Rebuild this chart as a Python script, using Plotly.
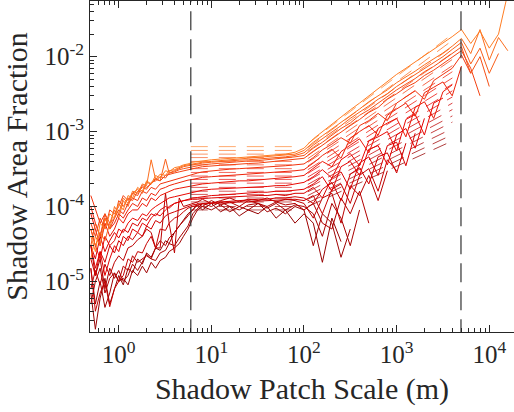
import plotly.graph_objects as go

# ---------------- data ----------------
x_scale = [0.5, 0.56, 0.63, 0.71, 0.8, 0.9, 1.0, 1.12, 1.26, 1.41,
           1.6, 1.8, 2.0, 2.24, 2.5, 2.8, 3.2, 3.5, 4.0, 4.5,
           5.0, 5.6, 6.3, 7.1, 8, 10, 12.6, 15.8, 20, 25,
           32, 40, 50, 63, 80, 100, 126, 158, 200, 251,
           316, 398, 501, 631, 794, 1000, 1259, 1585, 1995, 2512,
           3162, 3981, 5012, 6310, 7943, 10000, 12589, 15849]

area_frac_00 = [7e-6, 2.3e-6, 6e-6, 1.1e-5, 5e-6, 8e-6, 1.2e-5, 9e-6, 1.5e-5, 1.3e-5,
                2e-5, 1.7e-5, 2.4e-5, 2.1e-5, 2.8e-5, 2.6e-5, 3.5e-5, 3.2e-5, 4.5e-5, 5.5e-5,
                6.5e-5, 8e-5, 9e-5, 1.05e-4, 9e-5, 1.1e-4, 8.5e-5, 1.0e-4, 7.5e-5, 9e-5,
                8e-5, 1.0e-4, 7e-5, 9e-5, 6e-5, 8e-5, 6e-5, 1.8e-5, 7e-5, 3.4e-5]
area_frac_01 = [1.5e-5, 5e-6, 1e-5, 4.5e-6, 7e-6, 1.3e-5, 1.0e-5, 1.1e-5, 9e-6, 1.4e-5,
                1.2e-5, 1.6e-5, 1.3e-5, 1.8e-5, 1.5e-5, 1.9e-5, 2.1e-5, 2.5e-5, 2.8e-5, 3.2e-5,
                4e-5, 5e-5, 7e-5, 9e-5, 1.0e-4, 9e-5, 1.05e-4, 8.5e-5, 1.0e-4, 9e-5,
                1.1e-4, 8.5e-5, 9.5e-5, 8e-5, 1.0e-4, 9e-5, 3e-5, 8e-5, 6e-5, 2.1e-5,
                5e-5]
area_frac_02 = [3e-5, 1.2e-5, 2e-5, 8e-6, 1.5e-5, 1.1e-5, 1.4e-5, 1.0e-5, 1.2e-5, 1.7e-5,
                1.4e-5, 1.8e-5, 2.3e-5, 2.0e-5, 1.9e-5, 2.4e-5, 2.6e-5, 3.2e-5, 3.0e-5, 3.8e-5,
                4.5e-5, 5.5e-5, 8e-5, 9.5e-5, 1.1e-4, 1.0e-4, 1.15e-4, 1.0e-4, 9e-5, 1.05e-4,
                1.1e-4, 9.5e-5, 1.1e-4, 9e-5, 1.05e-4, 1.0e-4, 8e-5, 4e-5, 1.1e-4, 7e-5,
                3e-5, 9e-5]
area_frac_03 = [5e-6, 1e-5, 1.5e-5, 7e-6, 1.1e-5, 1.3e-5, 1.0e-5, 1.6e-5, 1.4e-5, 2.2e-5,
                1.8e-5, 2.0e-5, 2.2e-5, 2.0e-5, 2.8e-5, 3.5e-5, 3.0e-5, 3.8e-5, 4.5e-5, 5.5e-5,
                6.5e-5, 7.5e-5, 9e-5, 1.1e-4, 1.0e-4, 1.2e-4, 1.05e-4, 1.15e-4, 1.0e-4, 1.2e-4,
                1.1e-4, 1.0e-4, 1.15e-4, 1.05e-4, 1.1e-4, 9e-5, 1.1e-4, 6e-5, 5e-5, 1.3e-4,
                8e-5, 1.6e-4, 6e-5]
area_frac_04 = [8e-6, 1.4e-5, 9e-6, 1.7e-5, 1.2e-5, 1.8e-5, 2.2e-5, 1.9e-5, 2.8e-5, 3e-5,
                3.6e-5, 4e-5, 5e-5, 4.5e-5, 2.8e-5, 2.8e-5, 1.5e-4, 6e-5, 2.4e-5, 1.3e-4,
                1.0e-4, 1.05e-4, 1.1e-4, 1.15e-4, 1.25e-4, 1.1e-4, 1.2e-4, 1.3e-4, 1.15e-4, 1.25e-4,
                1.2e-4, 1.3e-4, 1.15e-4, 1.25e-4, 1.2e-4, 1.1e-4, 7e-5, 1.3e-4, 1.5e-4, 6e-5,
                1.9e-4, 1.4e-4, 2.6e-4, 1.2e-4, 3e-4]
area_frac_05 = [1.5e-5, 4e-6, 7e-6, 1e-5, 4.6e-6, 8e-6, 1e-5, 1.2e-5, 2e-5, 1.8e-5,
                2.5e-5, 2.4e-5, 3.2e-5, 4e-5, 2.8e-5, 5e-5, 4.8e-5, 6e-5, 7e-5, 7.5e-5,
                8.5e-5, 9.5e-5, 1.0e-4, 1.05e-4, 1.08e-4, 1.1e-4, 1.1e-4, 1.12e-4, 1.15e-4, 1.15e-4,
                1.18e-4, 1.2e-4, 1.2e-4, 1.22e-4, 1.25e-4, 1.2e-4, 1.4e-4, 8e-5, 1.7e-4, 2.0e-4,
                1.1e-4, 2.6e-4, 3.2e-4, 1.6e-4, 4.2e-4, 3.0e-4]
area_frac_06 = [2e-5, 1.2e-5, 2.5e-5, 1.8e-5, 3e-5, 2.4e-5, 3.5e-5, 3e-5, 4e-5, 3.6e-5,
                4.5e-5, 4e-5, 5.5e-5, 5e-5, 6.5e-5, 6e-5, 7.5e-5, 8e-5, 8.5e-5, 9e-5,
                9.5e-5, 1.0e-4, 1.05e-4, 1.08e-4, 1.1e-4, 1.12e-4, 1.15e-4, 1.18e-4, 1.2e-4, 1.22e-4,
                1.25e-4, 1.25e-4, 1.3e-4, 1.3e-4, 1.35e-4, 1.3e-4, 1.1e-4, 1.7e-4, 2.1e-4, 1.2e-4,
                2.7e-4, 3.3e-4, 2.0e-4, 4.6e-4, 5.2e-4, 2.8e-4, 7e-4]
area_frac_07 = [3e-5, 2e-5, 4e-5, 2.5e-5, 3.5e-5, 4.5e-5, 3.8e-5, 5e-5, 4.5e-5, 6e-5,
                5.5e-5, 7e-5, 6.5e-5, 8e-5, 7.5e-5, 9e-5, 1e-4, 9.5e-5, 1.1e-4, 1.15e-4,
                1.2e-4, 1.22e-4, 1.25e-4, 1.25e-4, 1.28e-4, 1.3e-4, 1.32e-4, 1.35e-4, 1.35e-4, 1.38e-4,
                1.4e-4, 1.4e-4, 1.45e-4, 1.4e-4, 1.5e-4, 1.5e-4, 1.8e-4, 1.3e-4, 2.4e-4, 2.9e-4,
                1.7e-4, 3.8e-4, 4.6e-4, 2.6e-4, 6.5e-4, 7.2e-4, 3.5e-4, 9.5e-4]
area_frac_08 = [3e-5, 1.5e-5, 2.5e-5, 1.2e-5, 2e-5, 3e-5, 2.5e-5, 4e-5, 3.5e-5, 5e-5,
                4.5e-5, 6e-5, 5.5e-5, 7e-5, 8e-5, 7.5e-5, 9e-5, 1.0e-4, 1.1e-4, 1.15e-4,
                1.2e-4, 1.25e-4, 1.3e-4, 1.32e-4, 1.35e-4, 1.4e-4, 1.42e-4, 1.45e-4, 1.5e-4, 1.5e-4,
                1.55e-4, 1.55e-4, 1.6e-4, 1.6e-4, 1.65e-4, 1.7e-4, 2.0e-4, 2.5e-4, 1.6e-4, 3.4e-4,
                4.0e-4, 2.6e-4, 5.8e-4, 6.5e-4, 3.6e-4, 9e-4, 1.1e-3, 6e-4, 1.5e-3]
area_frac_09 = [5e-5, 3e-5, 2e-5, 4e-5, 3e-5, 3.5e-5, 5e-5, 4.5e-5, 6e-5, 7e-5,
                6.5e-5, 8e-5, 7.5e-5, 9e-5, 1e-4, 1.1e-4, 1.2e-4, 1.3e-4, 1.35e-4, 1.4e-4,
                1.45e-4, 1.5e-4, 1.55e-4, 1.6e-4, 1.65e-4, 1.7e-4, 1.72e-4, 1.75e-4, 1.78e-4, 1.8e-4,
                1.82e-4, 1.85e-4, 1.9e-4, 1.9e-4, 2.0e-4, 2.1e-4, 2.5e-4, 3.1e-4, 2.4e-4, 4.2e-4,
                5.1e-4, 3.5e-4, 7.5e-4, 8.5e-4, 1.0e-3, 5.5e-4, 1.45e-3, 1.7e-3, 9e-4, 2.4e-3,
                2.8e-3]
area_frac_10 = [8e-5, 5e-5, 3e-5, 6e-5, 4e-5, 5e-5, 7e-5, 6e-5, 8e-5, 9e-5,
                9e-5, 1.1e-4, 1.0e-4, 1.3e-4, 1.2e-4, 1.4e-4, 1.5e-4, 1.6e-4, 1.7e-4, 1.75e-4,
                1.8e-4, 1.85e-4, 1.9e-4, 1.95e-4, 2.0e-4, 2.05e-4, 2.1e-4, 2.15e-4, 2.2e-4, 2.2e-4,
                2.25e-4, 2.3e-4, 2.35e-4, 2.4e-4, 2.5e-4, 2.6e-4, 3.2e-4, 4.0e-4, 3.4e-4, 5.4e-4,
                6.6e-4, 8.0e-4, 5.2e-4, 1.1e-3, 1.3e-3, 1.5e-3, 8.5e-4, 2.1e-3, 2.5e-3, 1.5e-3,
                3.4e-3, 4.2e-3]
area_frac_11 = [1e-4, 6e-5, 4e-5, 7e-5, 5e-5, 6e-5, 8e-5, 7e-5, 9e-5, 1.1e-4,
                1e-4, 1.3e-4, 1.2e-4, 1.5e-4, 1.4e-4, 1.7e-4, 1.8e-4, 1.9e-4, 2.0e-4, 2.1e-4,
                2.2e-4, 2.25e-4, 2.3e-4, 2.4e-4, 2.45e-4, 2.5e-4, 2.55e-4, 2.6e-4, 2.65e-4, 2.7e-4,
                2.75e-4, 2.8e-4, 2.85e-4, 2.9e-4, 3.0e-4, 3.1e-4, 3.8e-4, 4.8e-4, 5.8e-4, 4.4e-4,
                8.2e-4, 1.0e-3, 1.2e-3, 9e-4, 1.65e-3, 2.0e-3, 2.4e-3, 1.6e-3, 3.3e-3, 3.9e-3,
                4.6e-3, 3.0e-3, 7.5e-3]
area_frac_12 = [1.4e-4, 9e-5, 6e-5, 8e-5, 5e-5, 7e-5, 9e-5, 8e-5, 1.1e-4, 1.3e-4,
                1.2e-4, 1.6e-4, 1.5e-4, 1.8e-4, 1.7e-4, 2.0e-4, 2.1e-4, 2.2e-4, 2.3e-4, 2.4e-4,
                2.5e-4, 2.6e-4, 2.7e-4, 2.8e-4, 2.9e-4, 3.0e-4, 3.1e-4, 3.15e-4, 3.2e-4, 3.25e-4,
                3.3e-4, 3.4e-4, 3.45e-4, 3.5e-4, 3.6e-4, 3.7e-4, 4.5e-4, 5.7e-4, 6.8e-4, 8.3e-4,
                7.0e-4, 1.2e-3, 1.4e-3, 1.75e-3, 1.4e-3, 2.4e-3, 2.9e-3, 3.5e-3, 2.7e-3, 4.8e-3,
                5.8e-3, 7.0e-3, 1.05e-2, 6e-3]
area_frac_13 = [6e-5, 4e-5, 7e-5, 5e-5, 9e-5, 8e-5, 1e-4, 1.4e-4, 1.2e-4, 1.5e-4,
                1.4e-4, 1.9e-4, 1.8e-4, 2.0e-4, 2.3e-4, 2.2e-4, 2.6e-4, 2.7e-4, 2.8e-4, 2.9e-4,
                3.0e-4, 3.1e-4, 3.2e-4, 3.3e-4, 3.4e-4, 3.5e-4, 3.55e-4, 3.6e-4, 3.7e-4, 3.75e-4,
                3.8e-4, 3.9e-4, 4.0e-4, 4.1e-4, 4.2e-4, 4.4e-4, 5.4e-4, 6.6e-4, 8.0e-4, 1.0e-3,
                1.2e-3, 1.45e-3, 1.8e-3, 2.1e-3, 2.7e-3, 3.2e-3, 3.9e-3, 4.5e-3, 5.6e-3, 6.6e-3,
                8.0e-3, 9.8e-3, 1.2e-2, 7e-3, 3e-3]
area_frac_14 = [3e-5, 6e-5, 4e-5, 8e-5, 6e-5, 7e-5, 1.2e-4, 1e-4, 1.3e-4, 1.2e-4,
                1.6e-4, 1.8e-4, 1.7e-4, 2.1e-4, 2.2e-4, 2.5e-4, 2.4e-4, 2.8e-4, 2.9e-4, 3.1e-4,
                3.2e-4, 3.3e-4, 3.4e-4, 3.5e-4, 3.6e-4, 3.7e-4, 3.8e-4, 3.9e-4, 4.0e-4, 4.05e-4,
                4.1e-4, 4.2e-4, 4.3e-4, 4.4e-4, 4.6e-4, 4.8e-4, 6.0e-4, 7.2e-4, 9.0e-4, 1.1e-3,
                1.3e-3, 1.65e-3, 1.95e-3, 2.4e-3, 2.9e-3, 3.6e-3, 4.3e-3, 5.1e-3, 6.3e-3, 7.4e-3,
                9.0e-3, 1.1e-2, 1.35e-2, 6e-3, 1.0e-2, 4e-3]
area_frac_15 = [5e-5, 3e-5, 4.5e-5, 3.5e-5, 6e-5, 9e-5, 7e-5, 1.2e-4, 1e-4, 1.5e-4,
                1.7e-4, 1.5e-4, 2.1e-4, 2e-4, 2.4e-4, 2.2e-4, 4.3e-4, 2.8e-4, 3.0e-4, 3.2e-4,
                3.4e-4, 3.5e-4, 3.6e-4, 3.7e-4, 3.8e-4, 3.9e-4, 4.0e-4, 4.1e-4, 4.15e-4, 4.2e-4,
                4.3e-4, 4.4e-4, 4.5e-4, 4.6e-4, 4.8e-4, 5.2e-4, 6.6e-4, 8.0e-4, 9.8e-4, 1.2e-3,
                1.5e-3, 1.8e-3, 2.2e-3, 2.7e-3, 3.2e-3, 4.0e-3, 4.8e-3, 5.7e-3, 7.0e-3, 8.4e-3,
                1.0e-2, 1.25e-2, 1.55e-2, 8e-3, 1.3e-2, 6e-3, 1.1e-2]
area_frac_16 = [2e-5, 4e-5, 3e-5, 7e-5, 5e-5, 1e-4, 8e-5, 1.3e-4, 1.1e-4, 1.6e-4,
                1.5e-4, 2e-4, 1.9e-4, 4.2e-4, 2.3e-4, 2.7e-4, 2.6e-4, 3.0e-4, 3.1e-4, 3.3e-4,
                3.5e-4, 3.6e-4, 3.7e-4, 3.8e-4, 3.9e-4, 4.0e-4, 4.1e-4, 4.2e-4, 4.3e-4, 4.4e-4,
                4.5e-4, 4.6e-4, 4.7e-4, 4.8e-4, 5.0e-4, 5.6e-4, 7.2e-4, 8.8e-4, 1.08e-3, 1.35e-3,
                1.65e-3, 2.0e-3, 2.5e-3, 3.0e-3, 3.6e-3, 4.5e-3, 5.3e-3, 6.4e-3, 7.8e-3, 9.3e-3,
                1.12e-2, 1.38e-2, 1.75e-2, 1.1e-2, 2.3e-2, 9e-3, 1.8e-2, 1.2e-2]
area_frac_17 = [4e-5, 2.5e-5, 6e-5, 5e-5, 8e-5, 7e-5, 1.1e-4, 9e-5, 1.4e-4, 1.3e-4,
                1.8e-4, 1.6e-4, 2.2e-4, 2e-4, 2.6e-4, 2.4e-4, 3.0e-4, 2.9e-4, 3.3e-4, 3.4e-4,
                3.6e-4, 3.7e-4, 3.9e-4, 4.0e-4, 4.1e-4, 4.2e-4, 4.3e-4, 4.4e-4, 4.5e-4, 4.6e-4,
                4.7e-4, 4.8e-4, 4.9e-4, 5.0e-4, 5.3e-4, 6.0e-4, 8.0e-4, 1.0e-3, 1.25e-3, 1.55e-3,
                1.95e-3, 2.4e-3, 3.0e-3, 3.7e-3, 4.7e-3, 5.8e-3, 7.0e-3, 8.5e-3, 1.03e-2, 1.25e-2,
                1.5e-2, 1.85e-2, 2.3e-2, 1.5e-2, 2.2e-2, 1.3e-2, 2.0e-2, 7e-2]

series = [area_frac_00, area_frac_01, area_frac_02, area_frac_03, area_frac_04, area_frac_05,
          area_frac_06, area_frac_07, area_frac_08, area_frac_09, area_frac_10, area_frac_11,
          area_frac_12, area_frac_13, area_frac_14, area_frac_15, area_frac_16, area_frac_17]

# plateau fits (horizontal dashed) and power-law fits (sloped dashed)
plateau_fit_x = [6.0, 86.0]
plateau_fit_level = [9e-5, 1.0e-4, 1.15e-4, 1.3e-4, 1.45e-4, 1.6e-4, 1.8e-4, 2.05e-4, 2.3e-4,
                     2.55e-4, 2.85e-4, 3.2e-4, 3.6e-4, 4.0e-4, 4.5e-4, 5.0e-4, 5.6e-4, 6.3e-4]
slope_fit_x = [110.0, 4000.0]
slope_fit_start = [1.0e-4, 1.12e-4, 1.25e-4, 1.4e-4, 1.57e-4, 1.76e-4, 1.97e-4, 2.2e-4, 2.47e-4,
                   2.77e-4, 3.1e-4, 3.47e-4, 3.89e-4, 4.35e-4, 4.87e-4, 5.46e-4, 6.1e-4, 6.9e-4]
slope_fit_end = [7.5e-4, 9.1e-4, 1.1e-3, 1.34e-3, 1.62e-3, 1.97e-3, 2.4e-3, 2.9e-3, 3.5e-3,
                 4.3e-3, 5.2e-3, 6.3e-3, 7.6e-3, 9.2e-3, 1.12e-2, 1.36e-2, 1.65e-2, 2.0e-2]

scale_bounds = [6.0, 4950.0]

y_ticks = [1e-5, 1e-4, 1e-3, 1e-2]
y_ticklabels = ["10<sup>-5</sup>", "10<sup>-4</sup>", "10<sup>-3</sup>", "10<sup>-2</sup>"]
x_ticks = [1, 10, 100, 1000, 10000]
x_ticklabels = ["10<sup>0</sup>", "10<sup>1</sup>", "10<sup>2</sup>", "10<sup>3</sup>", "10<sup>4</sup>"]

# ---------------- styling ----------------
def color(i, n, alpha=1.0):
    t = i / (n - 1)
    if t <= 0.5:
        s = t / 0.5
        r, g, b = 150 + (232 - 150) * s, 0, 0
    else:
        s = (t - 0.5) / 0.5
        r, g, b = 232 + (255 - 232) * s, 125 * s, 35 * s
    return f"rgba({int(r)},{int(g)},{int(b)},{alpha})"

n = len(series)
fig = go.Figure()

# dashed fits (drawn below the data)
for i in range(n):
    fig.add_trace(go.Scatter(
        x=plateau_fit_x, y=[plateau_fit_level[i]] * 2, mode="lines",
        line=dict(color=color(i, n, 0.65), width=1, dash="17px,11px"),
        showlegend=False, hoverinfo="skip"))
    fig.add_trace(go.Scatter(
        x=slope_fit_x, y=[slope_fit_start[i], slope_fit_end[i]], mode="lines",
        line=dict(color=color(i, n, 0.75), width=1, dash="14px,9px"),
        showlegend=False, hoverinfo="skip"))

for i, ys in enumerate(series):
    fig.add_trace(go.Scatter(
        x=x_scale[:len(ys)], y=ys, mode="lines",
        line=dict(color=color(i, n), width=1),
        showlegend=False))

for xb in scale_bounds:
    fig.add_trace(go.Scatter(
        x=[xb, xb], y=[1e-8, 1.0], mode="lines",
        line=dict(color="#333333", width=1.2, dash="19px,9px"),
        showlegend=False, hoverinfo="skip"))

axis_col = "#262626"
font_family = "Liberation Serif"

def minor_vals(lo, hi):
    return [m * 10 ** e for e in range(lo, hi) for m in range(2, 10)]

fig.update_layout(
    width=514, height=412,
    margin=dict(l=90, r=0, t=1, b=80),
    paper_bgcolor="white", plot_bgcolor="white",
    font=dict(family=font_family, size=25, color=axis_col),
    xaxis=dict(
        type="log", range=[-0.310, 4.267],
        tickvals=x_ticks, ticktext=x_ticklabels,
        ticks="inside", ticklen=7, tickwidth=1, tickcolor=axis_col,
        showline=True, linecolor=axis_col, linewidth=1, mirror="allticks",
        showgrid=False, zeroline=False,
        minor=dict(tickvals=minor_vals(-1, 5), ticks="inside", ticklen=4,
                   tickcolor=axis_col, showgrid=False),
        tickfont=dict(size=25, family=font_family),
        title=dict(text="Shadow Patch Scale (m)", font=dict(size=30, family=font_family),
                   standoff=10),
    ),
    yaxis=dict(
        type="log", range=[-5.675, -1.257],
        tickvals=y_ticks, ticktext=y_ticklabels,
        ticks="inside", ticklen=7, tickwidth=1, tickcolor=axis_col,
        showline=True, linecolor=axis_col, linewidth=1, mirror=False,
        showgrid=False, zeroline=False,
        minor=dict(tickvals=minor_vals(-6, -1), ticks="inside", ticklen=4,
                   tickcolor=axis_col, showgrid=False),
        tickfont=dict(size=25, family=font_family),
        title=dict(text="Shadow Area Fraction", font=dict(size=30, family=font_family),
                   standoff=8),
    ),
)

fig.write_html("out.html")
